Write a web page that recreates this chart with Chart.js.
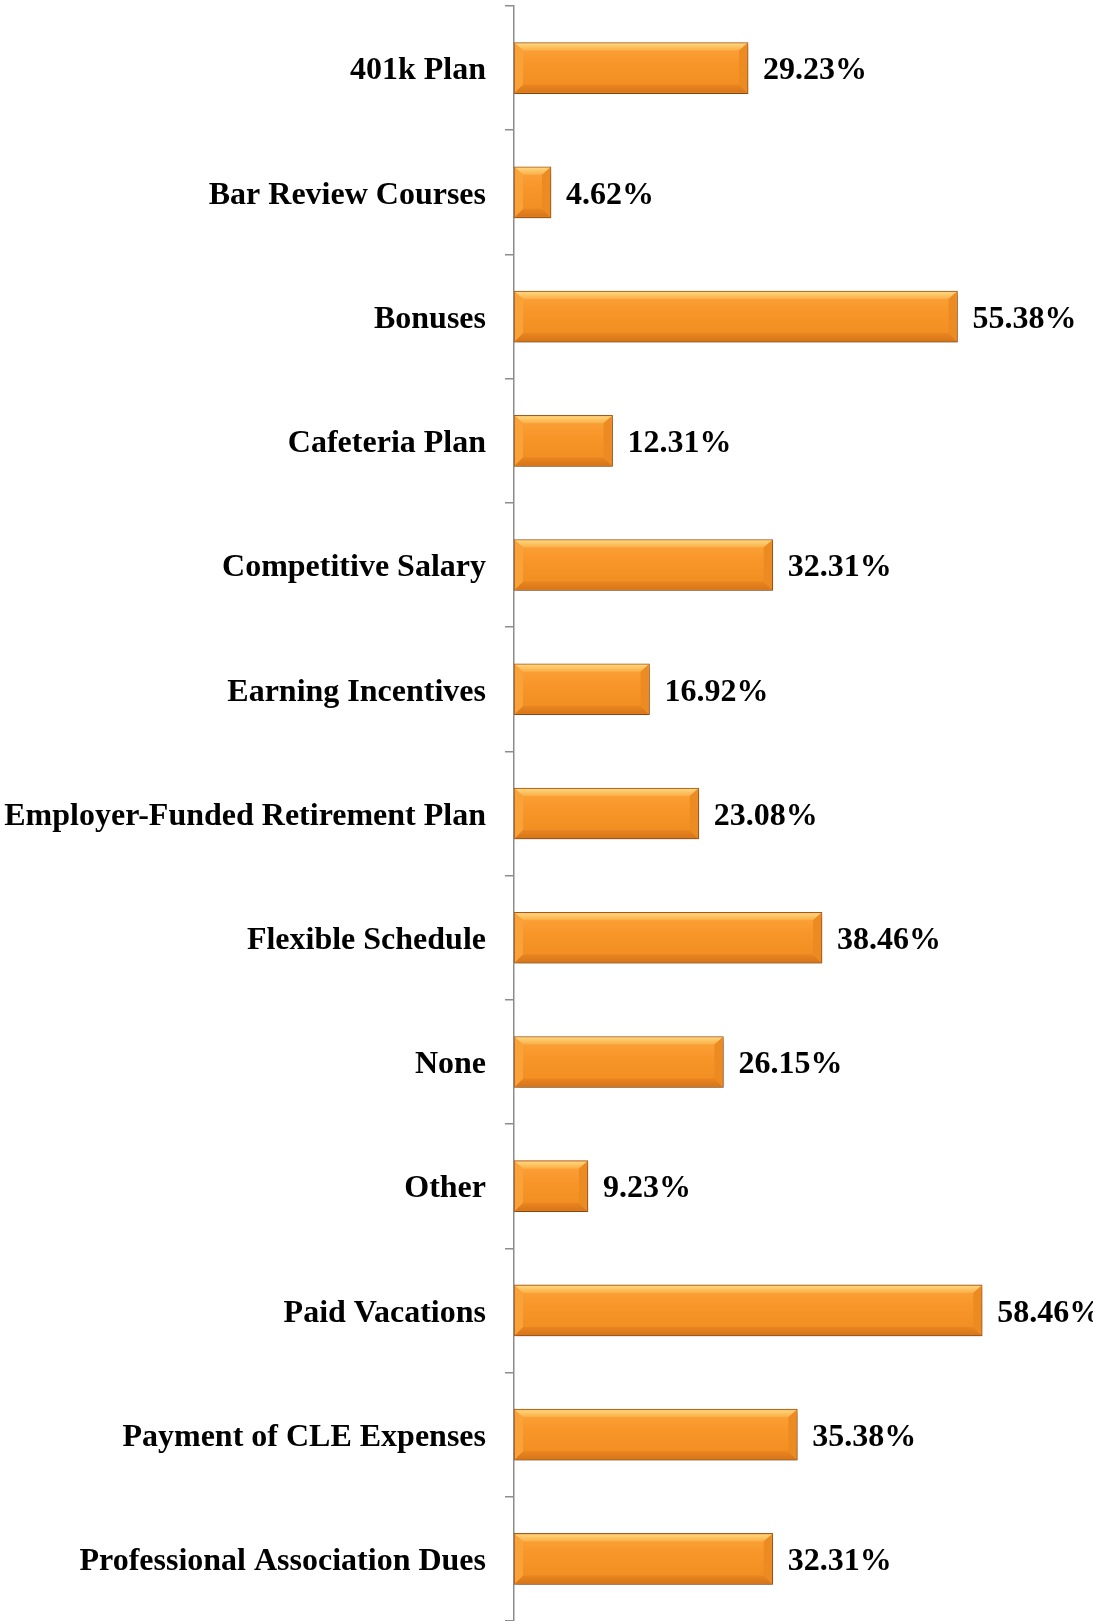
<!DOCTYPE html>
<html>
<head>
<meta charset="utf-8">
<script src="https://cdn.jsdelivr.net/npm/chart.js@4.4.0/dist/chart.umd.min.js"></script>
<style>
  html, body { margin: 0; padding: 0; background: #fff; }
  #wrap { width: 1093px; height: 1621px; position: relative; }
</style>
</head>
<body>
<div id="wrap"><canvas id="benefits-chart"></canvas></div>
<script>
const categories = [
    '401k Plan', 'Bar Review Courses', 'Bonuses', 'Cafeteria Plan', 'Competitive Salary',
    'Earning Incentives', 'Employer-Funded Retirement Plan', 'Flexible Schedule', 'None',
    'Other', 'Paid Vacations', 'Payment of CLE Expenses', 'Professional Association Dues'
]
const percentages = [29.23, 4.62, 55.38, 12.31, 32.31, 16.92, 23.08, 38.46, 26.15, 9.23, 58.46, 35.38, 32.31]

const labelFont = { family: '"Liberation Serif", "Times New Roman", serif', size: 32, weight: 'bold' }
const barHeight = 51

// main orange body, slightly lighter near the top
function barFill(ctx) {
    const chart = ctx.chart
    if (!chart.chartArea) return '#F7941E'
    const yMid = chart.scales.y.getPixelForValue(ctx.dataIndex)
    const g = chart.ctx.createLinearGradient(0, yMid - barHeight / 2, 0, yMid + barHeight / 2)
    g.addColorStop(0, '#FBA43A')
    g.addColorStop(0.4, '#F8962A')
    g.addColorStop(1, '#F08C20')
    return g
}

// draws the bevelled edges on each bar
const bevel = {
    id: 'bevel',
    afterDatasetsDraw(chart) {
        const c = chart.ctx
        const meta = chart.getDatasetMeta(0)
        c.save()
        meta.data.forEach((bar) => {
            const x0 = bar.base + 1, x1 = bar.x - 1
            const y0 = bar.y - bar.height / 2 + 1, y1 = bar.y + bar.height / 2 - 1
            const b = Math.min(8, (x1 - x0) / 2)
            const bt = 7, bb = 8
            // top
            let g = c.createLinearGradient(0, y0, 0, y0 + bt)
            g.addColorStop(0, '#FDD67E'); g.addColorStop(1, '#FBAE45')
            c.fillStyle = g
            c.beginPath(); c.moveTo(x0, y0); c.lineTo(x1, y0); c.lineTo(x1 - b, y0 + bt); c.lineTo(x0 + b, y0 + bt); c.closePath(); c.fill()
            // bottom
            g = c.createLinearGradient(0, y1 - bb, 0, y1)
            g.addColorStop(0, '#EA8620'); g.addColorStop(1, '#D7761A')
            c.fillStyle = g
            c.beginPath(); c.moveTo(x0, y1); c.lineTo(x1, y1); c.lineTo(x1 - b, y1 - bb); c.lineTo(x0 + b, y1 - bb); c.closePath(); c.fill()
            // left
            c.fillStyle = '#F9A23A'
            c.beginPath(); c.moveTo(x0, y0); c.lineTo(x0 + b, y0 + bt); c.lineTo(x0 + b, y1 - bb); c.lineTo(x0, y1); c.closePath(); c.fill()
            // right
            c.fillStyle = '#EC8B22'
            c.beginPath(); c.moveTo(x1, y0); c.lineTo(x1 - b, y0 + bt); c.lineTo(x1 - b, y1 - bb); c.lineTo(x1, y1); c.closePath(); c.fill()
        })
        c.restore()
    }
}

const valueLabels = {
    id: 'valueLabels',
    afterDatasetsDraw(chart) {
        const c = chart.ctx
        const meta = chart.getDatasetMeta(0)
        c.save()
        c.font = `${labelFont.weight} ${labelFont.size}px ${labelFont.family}`
        c.fillStyle = '#000'
        c.textAlign = 'left'
        c.textBaseline = 'middle'
        meta.data.forEach((bar, i) => {
            c.fillText(percentages[i].toFixed(2) + '%', bar.x + 15, bar.y + 3)
        })
        c.restore()
    }
}

const barShadow = {
    id: 'barShadow',
    beforeDatasetsDraw(chart) {
        const c = chart.ctx
        c.save()
        c.shadowColor = 'rgba(0,0,0,0.3)'
        c.shadowBlur = 5
        c.shadowOffsetX = 1
        c.shadowOffsetY = 3
    },
    afterDatasetsDraw(chart) {
        chart.ctx.restore()
    }
}

const chartConfig = {
    type: 'bar',
    data: {
        labels: categories,
        datasets: [{
            data: percentages,
            backgroundColor: barFill,
            borderColor: '#A85A1C',
            borderWidth: 1,
            borderSkipped: false,
            barThickness: barHeight
        }]
    },
    options: {
        indexAxis: 'y',
        responsive: true,
        maintainAspectRatio: false,
        animation: false,
        layout: { autoPadding: false, padding: { top: 6, right: 0, bottom: 0, left: 0 } },
        scales: {
            x: {
                display: false,
                min: 0,
                max: 72.3
            },
            y: {
                afterFit: (s) => {
                    s.width = 514
                    s.paddingTop = 0
                    s.paddingBottom = 0
                },
                grid: {
                    drawOnChartArea: false,
                    drawTicks: true,
                    tickLength: 9,
                    color: '#8c8c8c',
                    lineWidth: 1.5
                },
                border: { display: true, color: '#8c8c8c', width: 1.5 },
                ticks: {
                    color: '#000',
                    font: labelFont,
                    padding: 19,
                    labelOffset: 3
                }
            }
        },
        plugins: {
            legend: { display: false },
            tooltip: { enabled: false }
        }
    },
    plugins: [barShadow, bevel, valueLabels]
}

const benefitsChart = new Chart(document.getElementById('benefits-chart'), chartConfig)
</script>
</body>
</html>
